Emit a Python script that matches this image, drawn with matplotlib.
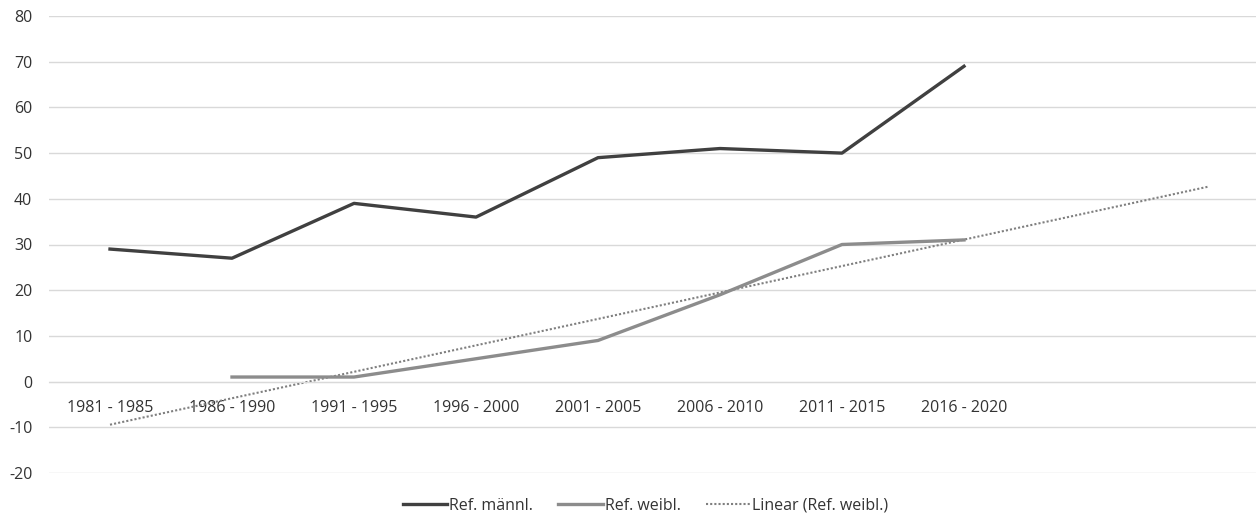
import numpy as np
import matplotlib
matplotlib.use("Agg")
import matplotlib.pyplot as plt

# Zeiträume und Werte
zeitraeume = ['1981 - 1985', '1986 - 1990', '1991 - 1995', '1996 - 2000',
              '2001 - 2005', '2006 - 2010', '2011 - 2015', '2016 - 2020']
ref_maennl = [29, 27, 39, 36, 49, 51, 50, 69]
ref_weibl = [np.nan, 1, 1, 5, 9, 19, 30, 31]
prognose_vorwaerts = 2  # Trendlinie 2 Perioden weiter

plt.rcParams['font.family'] = ['Open Sans', 'DejaVu Sans']
plt.rcParams['axes.unicode_minus'] = False
text_farbe = '#333333'
fs = 11.5

fig = plt.figure(figsize=(12.56, 5.19), dpi=100)
ax = fig.add_axes([49 / 1256, 46 / 519, 1 - 49 / 1256, 457 / 519])

x = np.arange(len(zeitraeume))
ax.plot(x, ref_maennl, color='#404040', lw=2.4, label='Ref. männl.', zorder=4)
ax.plot(x, ref_weibl, color='#8c8c8c', lw=2.4, label='Ref. weibl.', zorder=3)

# lineare Trendlinie (wie Excel: x = 1..n, leere Werte ausgelassen)
yw = np.array(ref_weibl, dtype=float)
ok = ~np.isnan(yw)
steigung, achse = np.polyfit(x[ok] + 1, yw[ok], 1)
xt = np.arange(len(zeitraeume) + prognose_vorwaerts)
ax.plot(xt, steigung * (xt + 1) + achse, color='#7f7f7f', lw=1.5,
        ls=(0, (1, 1)), label='Linear (Ref. weibl.)', zorder=2)

ax.set_ylim(-20, 80)
ax.set_yticks(range(-20, 81, 10))
ax.set_xlim(-0.5, (1256 - 49) / 122 - 0.5)
ax.grid(axis='y', color='#d9d9d9', lw=1)
ax.set_axisbelow(True)
for s in ['top', 'right', 'left']:
    ax.spines[s].set_visible(False)
ax.spines['bottom'].set_position(('data', 0))
ax.spines['bottom'].set_color('#d9d9d9')
ax.set_xticks(x)
ax.set_xticklabels(zeitraeume)
ax.tick_params(axis='x', length=0, pad=13, labelsize=fs, labelcolor=text_farbe)
ax.tick_params(axis='y', length=0, pad=12, labelsize=fs, labelcolor=text_farbe)

fig.legend(loc='center', bbox_to_anchor=(0.514, 1 - 506 / 519), ncol=3,
           frameon=False, fontsize=fs, labelcolor=text_farbe,
           handlelength=2.8, handletextpad=0.1, columnspacing=1.6)

fig.savefig('out.png', dpi=100)
